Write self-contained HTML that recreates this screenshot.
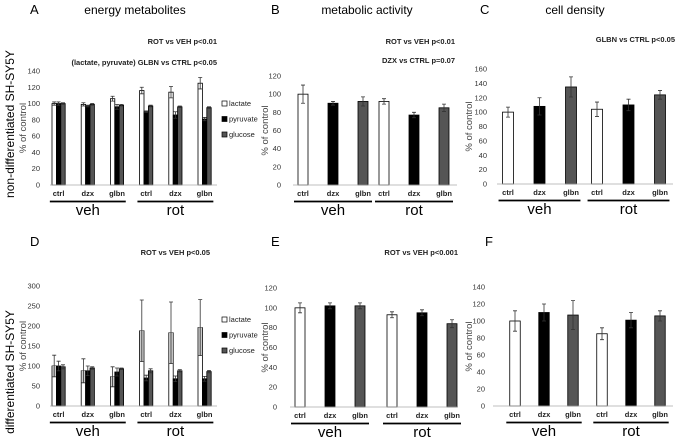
<!DOCTYPE html>
<html><head><meta charset="utf-8"><style>
body{margin:0;background:#fff}
svg{display:block;font-family:"Liberation Sans",sans-serif}
</style></head><body>
<svg id="fig" width="676" height="441" viewBox="0 0 676 441" xmlns="http://www.w3.org/2000/svg">
<text x="14" y="124" transform="rotate(-90 14 124)" text-anchor="middle" font-size="12">non-differentiated SH-SY5Y</text>
<text x="14" y="372" transform="rotate(-90 14 372)" text-anchor="middle" font-size="12">differentiated SH-SY5Y</text>
</svg>
<script>
const categories = ["ctrl","dzx","glbn","ctrl","dzx","glbn"];
const groups = ["veh","rot"];
const seriesNames = ["lactate","pyruvate","glucose"];
// Panel A
const aLactate = [100,99,106,116,114,125];
const aLactateErr = [2,2,3,4,7,7];
const aPyruvate = [100,97,96,90,86,81];
const aPyruvateErr = [2,1,3,1,4,2];
const aGlucose = [100,99,98,97,96,95];
const aGlucoseErr = [1,1,1,1,1,1];
const aTicks = [0,20,40,60,80,100,120,140];
// Panel B
const bValues = [100,90,92,92,77,85];
const bErr = [10,2,5,3,3,4];
const bTicks = [0,20,40,60,80,100,120];
// Panel C
const cValues = [100,108,135,104,110,124];
const cErr = [7,12,14,10,8,6];
const cTicks = [0,20,40,60,80,100,120,140,160];
// Panel D
const dLactate = [100,88,73,188,183,196];
const dLactateErr = [27,30,25,77,77,70];
const dPyruvate = [100,88,85,70,68,68];
const dPyruvateErr = [12,12,10,7,7,6];
const dGlucose = [98,95,93,88,88,86];
const dGlucoseErr = [5,3,2,5,3,3];
const dTicks = [0,50,100,150,200,250,300];
// Panel E
const eValues = [100,102,102,93,95,84];
const eErr = [5,3,3,3,3,4];
const eTicks = [0,20,40,60,80,100,120];
// Panel F
const fValues = [100,110,107,85,101,106];
const fErr = [12,10,17,7,9,6];
const fTicks = [0,20,40,60,80,100,120,140];

const NS="http://www.w3.org/2000/svg";
const svg=document.getElementById('fig');
function mk(tag,attrs,parent,txt){const e=document.createElementNS(NS,tag);for(const k in attrs)e.setAttribute(k,attrs[k]);if(txt!==undefined)e.textContent=txt;(parent||svg).appendChild(e);return e;}
const fills=["#ffffff","#000000","#555555"];

function panel(p){
  const g=mk('g',{});
  
  
  const tmax=p.ticks[p.ticks.length-1];
  const y=v=>p.base-(v/tmax)*(p.base-p.top);
  const x=i=>p.x0+i*p.step+(i>=3?p.gap:0);
  // letter & title
  let t=mk('text',{x:p.lx,y:p.ly,'font-size':13},g,p.id);
  
  
  if(p.title){t=mk('text',{x:p.tx,y:p.ly,'font-size':12,'text-anchor':'middle'},g,p.title);
  
  }
  p.notes.forEach(n=>{const e=mk('text',{x:n[0],y:n[1],'font-size':7.5,'text-anchor':'end','font-weight':'bold','fill':'#222'},g,n[2]);
    
    });
  // ticks
  p.ticks.forEach(v=>{const e=mk('text',{x:p.ax,y:y(v)+2.5,'font-size':7.5,'text-anchor':'end','fill':'#333'},g,v);
    
    });
  const yt=mk('text',{x:p.ytx,y:(p.base+p.top)/2,'font-size':9.5,'text-anchor':'middle','fill':'#444',transform:`rotate(-90 ${p.ytx} ${(p.base+p.top)/2})`},g,'% of control');
  
  
  // bars
  const ns=p.series.length;
  for(let i=0;i<6;i++){
    p.series.forEach((s,k)=>{
      const bw=p.bw;
      const cx=x(i)+(k-(ns-1)/2)*bw;
      const v=s.v[i],er=s.e[i];
      const col=ns===1?fills[i%3]:fills[k];
      const r=mk('rect',{x:cx-bw/2,y:y(v),width:bw,height:y(0)-y(v),fill:col,stroke:'#000','stroke-width':0.8},g);
      
      
      if(s.shade){const sh=mk('rect',{x:cx-bw/2+0.4,y:y(v),width:bw-0.8,height:y(v-er)-y(v),fill:'#cccccc'},g);
        
        }
      const eb=mk('path',{d:`M${cx} ${y(v+er)}V${y(Math.max(0,v-er))}M${cx-2} ${y(v+er)}H${cx+2}M${cx-2} ${y(Math.max(0,v-er))}H${cx+2}`,stroke:'#333','stroke-width':0.8,fill:'none'},g);
      
      
    });
    const cl=mk('text',{x:x(i),y:p.base+11,'font-size':7.5,'text-anchor':'middle','font-weight':'bold','fill':'#222'},g,categories[i]);
    
    
  }
  const axl=mk('line',{x1:p.axL,x2:p.axR,y1:p.base,y2:p.base,stroke:'#aaa','stroke-width':0.8},g);
  
  
  [0,1].forEach(gi=>{
    const a=x(gi*3)-p.step*0.3, b=x(gi*3+2)+p.step*0.3;
    const ln=mk('line',{x1:a,x2:b,y1:p.base+16.5,y2:p.base+16.5,stroke:'#000','stroke-width':1.8},g);
    
    
    const gt=mk('text',{x:(a+b)/2,y:p.base+30,'font-size':15,'text-anchor':'middle'},g,groups[gi]);
    
    
  });
  if(p.legend){
    seriesNames.forEach((n,k)=>{
      const yy=p.legend[1]+k*15.5;
      const sq=mk('rect',{x:p.legend[0],y:yy-5,width:5,height:5,fill:fills[k],stroke:'#000','stroke-width':0.7},g);
      
      
      const lt=mk('text',{x:p.legend[0]+7,y:yy,'font-size':7.5,'fill':'#222'},g,n);
      
      
    });
  }
}
panel({id:'A',title:'energy metabolites',lx:30,ly:14,tx:135,base:185,top:71,ticks:aTicks,ax:40,ytx:26,
  x0:58.6,step:29.2,gap:0,bw:4.4,axL:50,axR:217,legend:[222,106],
  notes:[[217,44,'ROT vs VEH p<0.01'],[217,65,'(lactate, pyruvate) GLBN vs CTRL   p<0.05']],
  series:[{v:aLactate,e:aLactateErr},{v:aPyruvate,e:aPyruvateErr},{v:aGlucose,e:aGlucoseErr}]});
panel({id:'B',title:'metabolic activity',lx:271,ly:14,tx:367,base:185,top:76,ticks:bTicks,ax:281,ytx:268,
  x0:303,step:30,gap:-9,bw:10,axL:293,axR:457,
  notes:[[455,44,'ROT vs VEH p<0.01'],[455,63,'DZX vs CTRL   p=0.07']],
  series:[{v:bValues,e:bErr}]});
panel({id:'C',title:'cell density',lx:480,ly:14,tx:575,base:184,top:69,ticks:cTicks,ax:487,ytx:472,
  x0:508,step:31.5,gap:-5.5,bw:11,axL:497,axR:673,
  notes:[[675,42,'GLBN vs CTRL   p<0.05']],
  series:[{v:cValues,e:cErr}]});
panel({id:'D',title:null,lx:30,ly:246,base:406,top:286,ticks:dTicks,ax:40,ytx:26,
  x0:58.6,step:29.2,gap:0,bw:4.4,axL:50,axR:217,legend:[222,322],
  notes:[[210,255,'ROT vs VEH p<0.05']],
  series:[{v:dLactate,e:dLactateErr,shade:true},{v:dPyruvate,e:dPyruvateErr},{v:dGlucose,e:dGlucoseErr}]});
panel({id:'E',title:null,lx:271,ly:246,base:407,top:288,ticks:eTicks,ax:277,ytx:268,
  x0:300,step:30,gap:2,bw:10,axL:290,axR:457,
  notes:[[458,255,'ROT vs VEH p<0.001']],
  series:[{v:eValues,e:eErr}]});
panel({id:'F',title:null,lx:485,ly:246,base:406,top:287,ticks:fTicks,ax:485,ytx:472,
  x0:515,step:29,gap:0,bw:10.5,axL:493,axR:673,
  notes:[],
  series:[{v:fValues,e:fErr}]});
</script>
</body></html>
